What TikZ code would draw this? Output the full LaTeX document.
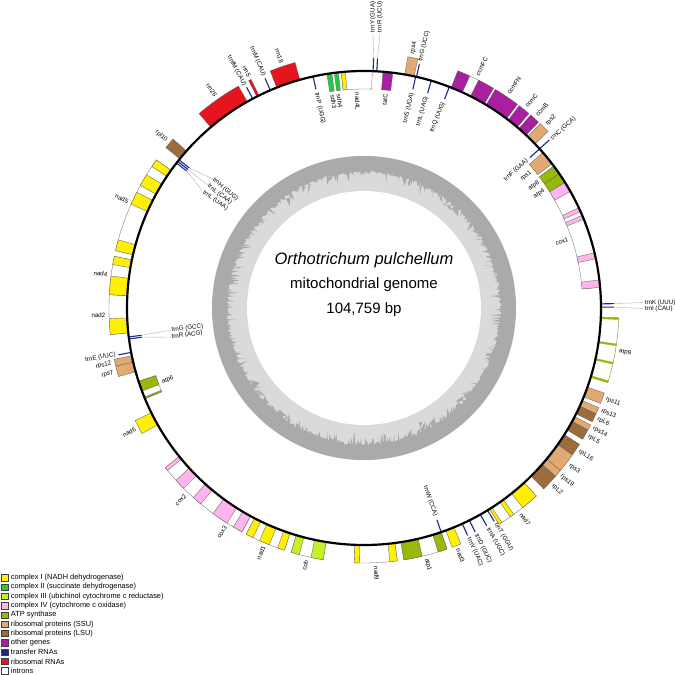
\documentclass[tikz,border=0pt]{standalone}
\usepackage{fontspec}
\setmainfont{Liberation Sans}
\usetikzlibrary{positioning}

\definecolor{cI}{RGB}{255,240,0}
\definecolor{cII}{RGB}{40,200,70}
\definecolor{cIII}{RGB}{200,240,40}
\definecolor{cIV}{RGB}{255,180,240}
\definecolor{catp}{RGB}{150,185,10}
\definecolor{cssu}{RGB}{225,170,115}
\definecolor{clsu}{RGB}{155,108,60}
\definecolor{coth}{RGB}{170,30,160}
\definecolor{ctrn}{RGB}{25,40,140}
\definecolor{crrn}{RGB}{230,20,30}
\definecolor{gclight}{RGB}{218,218,218}
\definecolor{gcdark}{RGB}{170,170,170}

% annular box: start angle, end angle, inner r, outer r, style
\newcommand{\arcbox}[5]{%
  \filldraw[#5] (#1:#3) arc[start angle=#1, end angle=#2, radius=#3]
    -- (#2:#4) arc[start angle=#2, end angle=#1, radius=#4] -- cycle;}
\newcommand{\gout}[3]{\arcbox{#1}{#2}{237}{255}{#3}}
\newcommand{\gin}[3]{\arcbox{#1}{#2}{219}{237}{#3}}
\newcommand{\tout}[1]{\draw[trna] (#1:237) -- (#1:250);}
\newcommand{\tin}[1]{\draw[trna] (#1:224) -- (#1:237);}
% radial label: name, angle, radius, 1=outside/0=inside, text
\newcommand{\glab}[5]{%
  \pgfmathtruncatemacro{\lft}{cos(#2)<0}%
  \pgfmathsetmacro{\rt}{#2+180*\lft}%
  \pgfmathtruncatemacro{\code}{2*\lft+#4}%
  \ifcase\code\relax\def\an{east}\or\def\an{west}\or\def\an{west}\else\def\an{east}\fi
  \node[lbl, rotate=\rt, anchor=\an] (#1) at (#2:#3) {#5};}

\begin{document}
\begin{tikzpicture}[x=1pt, y=1pt,
  lbl/.style={font=\fontsize{6.2}{7}\selectfont, inner sep=0.6pt},
  trna/.style={draw=ctrn, line width=1.1pt},
  exo/.style={draw=black!60, line width=0.35pt},
  intr/.style={fill=white, draw=black!55, line width=0.35pt},
  leader/.style={draw=black!30, line width=0.4pt},
  legbox/.style={draw=black!75, line width=0.5pt, minimum size=6.3pt, inner sep=0pt},
  legtxt/.style={font=\fontsize{7.4}{8}\selectfont, inner sep=0.5pt, anchor=west}
]
\useasboundingbox (-364,-367) rectangle (311,308);

% GC content ring
\fill[gclight] (0,0) circle[radius=152];
\fill[white] (0,0) circle[radius=117];
\pgfmathsetseed{11}
\fill[gcdark, even odd rule] (0,0) circle[radius=152]
  plot[domain=0:360, samples=1081] (\x:{138-3*rnd-11*rnd^6}) -- cycle;

\node[font=\fontsize{16.5}{18}\selectfont\itshape] (species) at (0,48) {Orthotrichum pulchellum};
\node[font=\fontsize{15}{17}\selectfont] (kind) at (0,23) {mitochondrial genome};
\node[font=\fontsize{15}{17}\selectfont] (len) at (0,-2) {104,759 bp};

% genes outside
\gout{119.5}{130.3}{exo, fill=crrn}
\gout{116.3}{116.9}{exo, fill=crrn}
\gout{105.7}{111.6}{exo, fill=crrn}
\gout{77.8}{80.1}{exo, fill=cssu}
\gout{59.5}{68.4}{intr}
\gout{65.5}{68.4}{exo, fill=coth}
\gout{59.5}{63.3}{exo, fill=coth}
\gout{53}{59}{exo, fill=coth}
\gout{49.7}{52.5}{exo, fill=coth}
\gout{46.8}{49.2}{exo, fill=coth}
\gout{43.8}{46.3}{exo, fill=cssu}
\gout{-17}{-2.2}{intr, draw=catp!70!black}
\foreach \a in {-2.6,-8.5,-12.7,-17} {
  \gout{\a}{\a+0.4}{exo, draw=catp, fill=catp}
}
\gout{-22}{-19.5}{exo, fill=cssu}
\gout{-24.5}{-23}{exo, fill=cssu}
\gout{-26.5}{-24.5}{exo, fill=clsu}
\gout{-28.6}{-27.3}{exo, fill=cssu}
\gout{-31}{-28.6}{exo, fill=clsu}
\gout{-35.2}{-32.3}{exo, fill=clsu}
\gout{-39.6}{-35.2}{exo, fill=cssu}
\gout{-41.3}{-39.6}{exo, fill=cssu}
\gout{-45.2}{-41.3}{exo, fill=clsu}
\gout{-58}{-47.5}{intr}
\gout{-51.5}{-47.5}{exo, fill=cI}
\gout{-55}{-54}{exo, fill=cI}
\gout{-58}{-57.3}{exo, fill=cI}
\gout{-69.8}{-67.7}{exo, fill=cI}
\gout{-81}{-71}{intr}
\gout{-81}{-76.8}{exo, fill=catp}
\gout{-73.1}{-71}{exo, fill=catp}
\gout{-92.2}{-82.5}{intr}
\gout{-92.2}{-91}{exo, fill=cI}
\gout{-84.2}{-82.5}{exo, fill=cI}
\gout{-106.6}{-99.2}{intr}
\gout{-106.6}{-104.7}{exo, fill=cIII}
\gout{-102}{-99.2}{exo, fill=cIII}
\gout{-117.5}{-108.2}{intr}
\gout{-117.5}{-115.8}{exo, fill=cI}
\gout{-114.2}{-111.8}{exo, fill=cI}
\gout{-109.8}{-108.2}{exo, fill=cI}
\gout{-126.3}{-118.6}{intr}
\gout{-126.3}{-122.5}{exo, fill=cIV}
\gout{-120.8}{-118.6}{exo, fill=cIV}
\gout{-141.2}{-126.3}{intr}
\gout{-141.2}{-140.4}{exo, fill=cIV}
\gout{-137.5}{-135}{exo, fill=cIV}
\gout{-132}{-129.8}{exo, fill=cIV}
\gout{-153.8}{-150.5}{exo, fill=cI}
\gout{-168.4}{-166.8}{exo, fill=cssu}
\gout{-166.8}{-164.4}{exo, fill=cssu}
\gout{177}{186}{intr}
\gout{182.4}{186}{exo, fill=cI}
\gout{168.3}{177}{intr}
\gout{168.3}{170.2}{exo, fill=cI}
\gout{172.8}{177}{exo, fill=cI}
\gout{144.5}{167}{intr}
\gout{144.5}{146.3}{exo, fill=cI}
\gout{148.5}{151.3}{exo, fill=cI}
\gout{153}{156}{exo, fill=cI}
\gout{164.5}{167}{exo, fill=cI}
\gout{138.5}{141}{exo, fill=clsu}

% genes inside
\gin{97.8}{99}{exo, fill=cII}
\gin{96.2}{97.2}{exo, fill=cII}
\gin{88}{95.5}{intr}
\gin{94.5}{95.5}{exo, fill=cI}
\gin{83}{85.4}{exo, fill=coth}
\gin{37.5}{41}{exo, fill=cssu}
\gin{34.5}{36.8}{exo, fill=catp}
\gin{32}{34.5}{exo, fill=catp}
\gin{5}{32}{intr}
\gin{29.5}{32}{exo, fill=cIV}
\gin{24}{25}{exo, fill=cIV}
\gin{22}{23}{exo, fill=cIV}
\gin{12}{13.5}{exo, fill=cIV}
\gin{5}{6.8}{exo, fill=cIV}
\gin{-162}{-157.5}{intr}
\gin{-162}{-159.5}{exo, fill=catp}
\gin{-157.9}{-157.5}{exo, fill=catp}

% transfer RNAs
\foreach \a in {118,113.3,87.8,86.9,77.2,42.2,1,0.2,-58.6,-60.6,-63.6,-65.5,-169.2} {
  \tout{\a}
}
\foreach \a in {102.4,77.4,73.5,68.9,42.2,-71,-173,-172.5,141.3,141.8,142.3} {
  \tin{\a}
}

% genome circle
\draw[line width=2.2pt] (0,0) circle[radius=237];

% labels outside
\glab{rrn26}{125}{258}{1}{rrn26}
\glab{trnfM}{118.2}{252}{1}{trnfM (CAU)}
\glab{rrn5}{116.4}{258}{1}{rrn5}
\glab{trnM}{113.3}{252}{1}{trnM (CAU)}
\glab{rrn18}{108.6}{258}{1}{rrn18}
\glab{rps4}{79.2}{258}{1}{rps4}
\glab{trnGucc}{77.1}{252}{1}{trnG (UCC)}
\glab{ccmFC}{64}{258}{1}{ccmFC}
\glab{ccmFN}{56}{258}{1}{ccmFN}
\glab{ccmC}{51.1}{258}{1}{ccmC}
\glab{ccmB}{48.1}{258}{1}{ccmB}
\glab{rps2}{45.1}{258}{1}{rps2}
\glab{trnC}{42}{252}{1}{trnC (GCA)}
\glab{atp9}{-9.6}{258}{1}{atp9}
\glab{rps11}{-20.7}{258}{1}{rps11}
\glab{rps13}{-23.4}{258}{1}{rps13}
\glab{rpL6}{-25.4}{258}{1}{rpL6}
\glab{rps14}{-27.7}{258}{1}{rps14}
\glab{rpL5}{-29.8}{258}{1}{rpL5}
\glab{rpL16}{-33.7}{258}{1}{rpL16}
\glab{rps3}{-37.4}{258}{1}{rps3}
\glab{rps19}{-40.4}{258}{1}{rps19}
\glab{rpL2}{-43.2}{258}{1}{rpL2}
\glab{nad7}{-52.7}{258}{1}{nad7}
\glab{trnT}{-58.6}{252}{1}{trnT (GGU)}
\glab{trnA}{-60.6}{252}{1}{trnA (UGC)}
\glab{trnD}{-63.6}{252}{1}{trnD (GUC)}
\glab{trnV}{-65.5}{252}{1}{trnV (UAC)}
\glab{nad3}{-68.7}{258}{1}{nad3}
\glab{atp1}{-76}{258}{1}{atp1}
\glab{nad9}{-87.3}{258}{1}{nad9}
\glab{cob}{-102.9}{258}{1}{cob}
\glab{nad1}{-112.8}{258}{1}{nad1}
\glab{cox3}{-122.4}{258}{1}{cox3}
\glab{cox2}{-133.7}{258}{1}{cox2}
\glab{nad6}{-152.1}{258}{1}{nad6}
\glab{rps7}{-165.5}{258}{1}{rps7}
\glab{rps12}{-167.6}{258}{1}{rps12}
\glab{trnE}{-169.4}{252}{1}{trnE (UUC)}
\glab{nad2}{181.5}{258}{1}{nad2}
\glab{nad4}{172.6}{258}{1}{nad4}
\glab{nad5}{155.7}{258}{1}{nad5}
\glab{rpl10}{139.7}{258}{1}{rpl10}

% labels inside
\glab{trnP}{102.4}{221}{0}{trnP (UGG)}
\glab{sdh3}{98.4}{216}{0}{sdh3}
\glab{sdh4}{96.7}{216}{0}{sdh4}
\glab{nad4L}{91.8}{216}{0}{nad4L}
\glab{tatC}{84.2}{216}{0}{tatC}
\glab{trnS}{77.4}{221}{0}{trnS (UGA)}
\glab{trnLuag}{73.5}{221}{0}{trnL (UAG)}
\glab{trnQ}{68.9}{221}{0}{trnQ (UUG)}
\glab{trnF}{42.2}{221}{0}{trnF (GAA)}
\glab{rps1}{39.2}{216}{0}{rps1}
\glab{atp8}{35.7}{216}{0}{atp8}
\glab{atp4}{33.1}{216}{0}{atp4}
\glab{cox1}{18.5}{216}{0}{cox1}
\glab{trnW}{-71}{221}{0}{trnW (CCA)}
\glab{atp6}{-159.8}{216}{0}{atp6}

% labels with leaders
\node[lbl, rotate=90, anchor=west] (trnY) at (9,275) {trnY (GUA)};
\node[lbl, rotate=90, anchor=west] (trnRucu) at (16,275) {trnR (UCU)};
\draw[leader] (87.8:250) -- (trnY.west);
\draw[leader] (86.9:250) -- (trnRucu.west);
\node[lbl, anchor=west] (trnK) at (280,5.5) {trnK (UUU)};
\node[lbl, anchor=west] (trnI) at (280,-0.5) {trnI (CAU)};
\draw[leader] (1:250) -- (trnK.west);
\draw[leader] (0.2:250) -- (trnI.west);
\node[lbl, rotate=-40.5, anchor=west] (trnH) at (139.5:199) {trnH (GUG)};
\node[lbl, rotate=-38.2, anchor=west] (trnLcaa) at (141.8:199) {trnL (CAA)};
\node[lbl, rotate=-35.9, anchor=west] (trnLuaa) at (144.1:199) {trnL (UAA)};
\draw[leader] (141.3:224) -- (trnH.west);
\draw[leader] (141.8:224) -- (trnLcaa.west);
\draw[leader] (142.3:224) -- (trnLuaa.west);
\node[lbl, rotate=7, anchor=west] (trnGgcc) at (-193,-22.2) {trnG (GCC)};
\node[lbl, rotate=7, anchor=west] (trnRacg) at (-193,-29) {trnR (ACG)};
\draw[leader] (-173:224) -- (trnGgcc.west);
\draw[leader] (-172.5:224) -- (trnRacg.west);

% legend
\foreach \c/\t [count=\i from 0] in {cI/complex I (NADH dehydrogenase),
    cII/complex II (succinate dehydrogenase),
    cIII/complex III (ubichinol cytochrome c reductase),
    cIV/complex IV (cytochrome c oxidase),
    catp/ATP synthase, cssu/ribosomal proteins (SSU),
    clsu/ribosomal proteins (LSU), coth/other genes,
    ctrn/transfer RNAs, crrn/ribosomal RNAs, white/introns} {
  \node[legbox, fill=\c] (lb\i) at (-359.3,{-269.7-9.3*\i}) {};
  \node[legtxt, right=2.2pt of lb\i] (lt\i) {\t};
}
\end{tikzpicture}
\end{document}
